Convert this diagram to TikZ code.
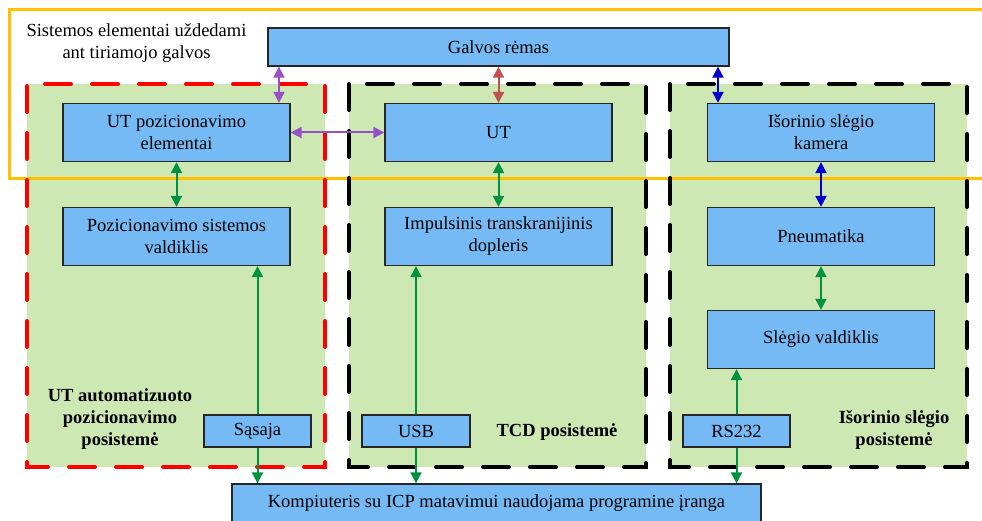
\documentclass[tikz,border=0pt]{standalone}
\usepackage{fontspec}
\setmainfont{Liberation Serif}
\usetikzlibrary{arrows.meta}
\definecolor{boxblue}{RGB}{117,186,245}
\definecolor{panelgreen}{RGB}{206,232,180}
\definecolor{frameyellow}{RGB}{255,192,0}
\definecolor{apurple}{RGB}{150,80,200}
\definecolor{ared}{RGB}{192,80,77}
\definecolor{ablue}{RGB}{0,0,204}
\definecolor{agreen}{RGB}{0,146,63}
\tikzset{
  txt/.style={font=\fontsize{18.5}{22}\selectfont, align=center, inner sep=0pt},
  bx/.style={txt, draw=black!85, line width=1.3pt, fill=boxblue},
  bigbox/.style={bx, minimum width=227pt, minimum height=58pt},
  smallbox/.style={bx, minimum width=107pt, minimum height=32pt},
  dashb/.style={line width=4pt, line cap=round, dash pattern=on 26pt off 21pt, dash phase=29pt},
  lab/.style={txt, font=\fontsize{18.5}{22}\selectfont\bfseries},
  conn/.style={line width=2pt, arrows={-Triangle[width=11pt,length=11pt]}},
  dconn/.style={line width=2pt, arrows={Triangle[width=11pt,length=11pt]-Triangle[width=11pt,length=11pt]}},
}
\begin{document}
\begin{tikzpicture}[x=1pt,y=-1pt]
\useasboundingbox (0,0) rectangle (982,521);
% panels
\fill[panelgreen] (27,84) rectangle (325,467);
\fill[panelgreen] (349,84) rectangle (646,467);
\fill[panelgreen] (670,84) rectangle (967,467);
% yellow frame
\draw[frameyellow, line width=3pt] (984,10) -- (9,10) -- (9,179) -- (984,179);
% dashed borders
\draw[dashb, red] (27,84) -- (325,84) -- (325,467) -- (27,467) -- cycle;
\draw[dashb, black] (349,84) -- (646,84) -- (646,467) -- (349,467) -- cycle;
\draw[dashb, black] (670,84) -- (967,84) -- (967,467) -- (670,467) -- cycle;
% texts
\node[txt] (head) at (136.5,43) {Sistemos elementai uždedami\\ant tiriamojo galvos};
\node[lab] (l1) at (120,419) {UT automatizuoto\\pozicionavimo\\posistemė};
\node[lab] (l2) at (557,432) {TCD posistemė};
\node[lab] (l3) at (894,430) {Išorinio slėgio\\posistemė};
% boxes
\node[bx, minimum width=461pt, minimum height=38pt] (galvos) at (498.5,47) {Galvos rėmas};
\node[bigbox] (upe) at (176.5,132.5) {UT pozicionavimo\\elementai};
\node[bigbox] (ut) at (498.5,132.5) {UT};
\node[bigbox] (kam) at (821,132.5) {Išorinio slėgio\\kamera};
\node[bigbox] (psv) at (176.5,236.5) {Pozicionavimo sistemos\\valdiklis};
\node[bigbox] (itd) at (498.5,236.5) {Impulsinis transkranijinis\\dopleris};
\node[bigbox] (pneu) at (821,236.5) {Pneumatika};
\node[bigbox] (sv) at (821,339.5) {Slėgio valdiklis};
\node[smallbox] (sas) at (257.5,431) {Sąsaja};
\node[smallbox, minimum width=108pt] (usb) at (416,431) {USB};
\node[smallbox] (rs) at (736.5,431) {RS232};
\node[bx, minimum width=529pt, minimum height=39pt] (komp) at (496.5,503.5) {Kompiuteris su ICP matavimui naudojama programine įranga};
% coordinates for galvos arrows
\coordinate (xa) at (279,0);
\coordinate (xb) at (498.5,0);
\coordinate (xc) at (718,0);
% connectors
\draw[dconn, apurple] (galvos.south -| xa) -- (upe.north -| xa);
\draw[dconn, ared] (galvos.south -| xb) -- (ut.north -| xb);
\draw[dconn, ablue] (galvos.south -| xc) -- (kam.north -| xc);
\draw[dconn, apurple] (upe.east) -- (ut.west);
\draw[dconn, agreen] (upe.south) -- (psv.north);
\draw[dconn, agreen] (ut.south) -- (itd.north);
\draw[dconn, ablue] (kam.south) -- (pneu.north);
\draw[dconn, agreen] (pneu.south) -- (sv.north);
\draw[conn, agreen] (sas.north) -- (sas.north |- psv.south);
\draw[conn, agreen] (sas.south) -- (sas.south |- komp.north);
\draw[conn, agreen] (usb.north) -- (usb.north |- itd.south);
\draw[conn, agreen] (usb.south) -- (usb.south |- komp.north);
\draw[conn, agreen] (rs.north) -- (rs.north |- sv.south);
\draw[conn, agreen] (rs.south) -- (rs.south |- komp.north);
\end{tikzpicture}
\end{document}
